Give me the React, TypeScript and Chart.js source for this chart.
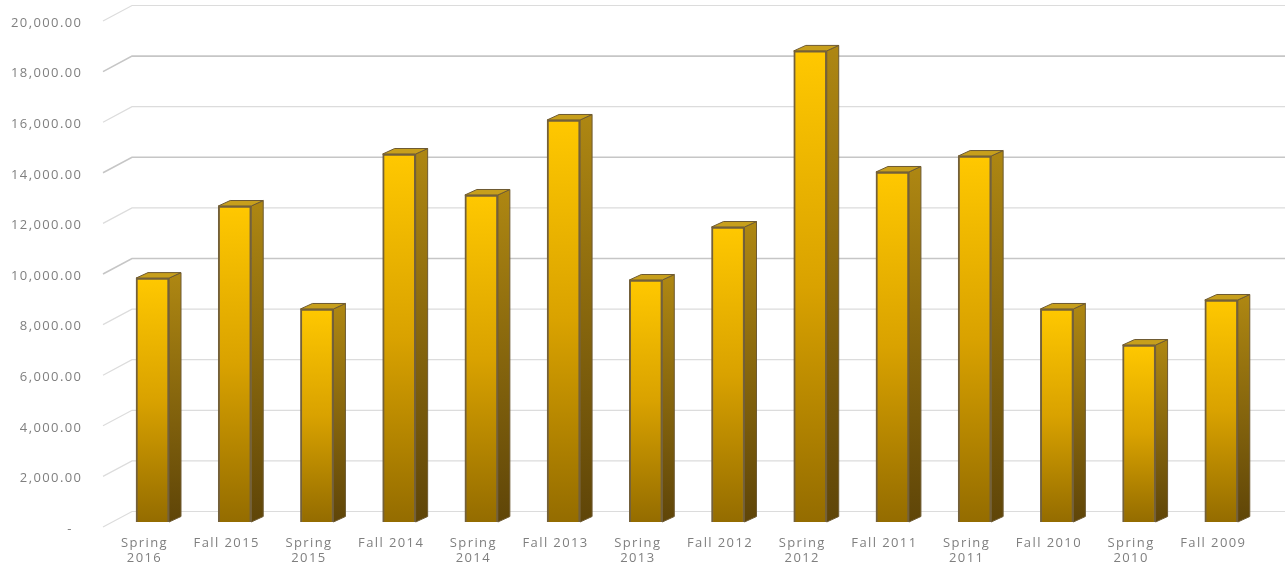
import React, { useEffect, useRef } from "react";
import { Chart, registerables } from "chart.js";

Chart.register(...registerables);

const categories = [
  ["Spring", "2016"], "Fall 2015", ["Spring", "2015"], "Fall 2014", ["Spring", "2014"], "Fall 2013", ["Spring", "2013"],
  "Fall 2012", ["Spring", "2012"], "Fall 2011", ["Spring", "2011"], "Fall 2010", ["Spring", "2010"], "Fall 2009",
];
const values = [9640, 12490, 8420, 14545, 12925, 15890, 9565, 11660, 18620, 13835, 14465, 8420, 6995, 8775];
const yTickLabels = ["-  ", "2,000.00", "4,000.00", "6,000.00", "8,000.00", "10,000.00", "12,000.00", "14,000.00", "16,000.00", "18,000.00", "20,000.00"];

const wallPlugin = {
  id: "wall3d",
  beforeDraw(chart: any) {
    chart.ctx.letterSpacing = "1.4px";
  },
  beforeDatasetsDraw(chart: any) {
    const { ctx } = chart;
    const y = chart.scales.y;
    ctx.save();
    y.ticks.forEach((t: any, i: number) => {
      const p = y.getPixelForValue(t.value);
      const strong = i === 5 || i === 7 || i === 9;
      ctx.strokeStyle = strong ? "#c6c6c6" : "#dcdcdc";
      ctx.lineWidth = strong ? 1.6 : 1.2;
      ctx.beginPath();
      ctx.moveTo(103, p + 5);
      ctx.lineTo(132, p - 10.5);
      ctx.lineTo(chart.width, p - 10.5);
      ctx.stroke();
    });
    const meta = chart.getDatasetMeta(0);
    const dx = 12;
    const dy = -5.5;
    meta.data.forEach((bar: any) => {
      const r = bar.x + bar.width / 2;
      const l = bar.x - bar.width / 2;
      const side = ctx.createLinearGradient(0, bar.y, 0, bar.base);
      side.addColorStop(0, "#ad8612");
      side.addColorStop(1, "#5f4508");
      ctx.fillStyle = side;
      ctx.strokeStyle = "#6e5a32";
      ctx.lineWidth = 1;
      ctx.beginPath();
      ctx.moveTo(r, bar.y);
      ctx.lineTo(r + dx, bar.y + dy);
      ctx.lineTo(r + dx, bar.base + dy);
      ctx.lineTo(r, bar.base);
      ctx.closePath();
      ctx.fill();
      ctx.stroke();
      ctx.fillStyle = "#c79f1c";
      ctx.beginPath();
      ctx.moveTo(l, bar.y);
      ctx.lineTo(l + dx, bar.y + dy);
      ctx.lineTo(r + dx, bar.y + dy);
      ctx.lineTo(r, bar.y);
      ctx.closePath();
      ctx.fill();
      ctx.stroke();
    });
    ctx.restore();
  },
};

export default function App() {
  const ref = useRef<HTMLCanvasElement>(null);
  useEffect(() => {
    const chart = new Chart(ref.current as HTMLCanvasElement, {
      type: "bar",
      data: {
        labels: categories as any,
        datasets: [
          {
            data: values,
            barThickness: 33,
            borderWidth: 2,
            borderColor: "#73603a",
            backgroundColor: (c: any) => {
              const { chart: ch, parsed } = c;
              if (!parsed || !ch.chartArea) return "#e0a800";
              const sc = ch.scales.y;
              const g = ch.ctx.createLinearGradient(0, sc.getPixelForValue(parsed.y), 0, sc.getPixelForValue(0));
              g.addColorStop(0, "#ffc800");
              g.addColorStop(0.5, "#d9a200");
              g.addColorStop(1, "#946c00");
              return g;
            },
          },
        ],
      },
      options: {
        responsive: false,
        animation: false,
        layout: { padding: { top: 16, right: 22.6, left: 0, bottom: 0 } },
        plugins: { legend: { display: false }, tooltip: { enabled: false } },
        scales: {
          x: {
            grid: { display: false },
            border: { display: false },
            afterFit: (s: any) => { s.height = 53; s.paddingLeft = 0; s.paddingRight = 0; },
            ticks: {
              autoSkip: false,
              maxRotation: 0,
              minRotation: 0,
              padding: 6,
              labelOffset: -8,
              color: "#7f7f7f",
              font: { family: "'Open Sans'", size: 13, lineHeight: 1.15 },
            },
          },
          y: {
            min: 0,
            max: 20000,
            grid: { display: false, drawTicks: false },
            border: { display: false },
            afterFit: (s: any) => { s.width = 111.4; s.paddingTop = 0; s.paddingBottom = 0; },
            afterTickToLabelConversion: (s: any) => {
              s.ticks.forEach((t: any, i: number) => { t.label = yTickLabels[i]; });
            },
            ticks: {
              stepSize: 2000,
              padding: 29,
              labelOffset: 7,
              color: "#7f7f7f",
              font: { family: "'Open Sans'", size: 13 },
            },
          },
        },
      },
      plugins: [wallPlugin],
    } as any);
    return () => chart.destroy();
  }, []);
  return (
    <div style={{ position: "absolute", left: 0, top: 0, width: 1285, height: 575, overflow: "hidden", background: "#fff" }}>
      <canvas ref={ref} width={1285} height={575} style={{ display: "block", filter: "blur(0.45px)" }} />
    </div>
  );
}
